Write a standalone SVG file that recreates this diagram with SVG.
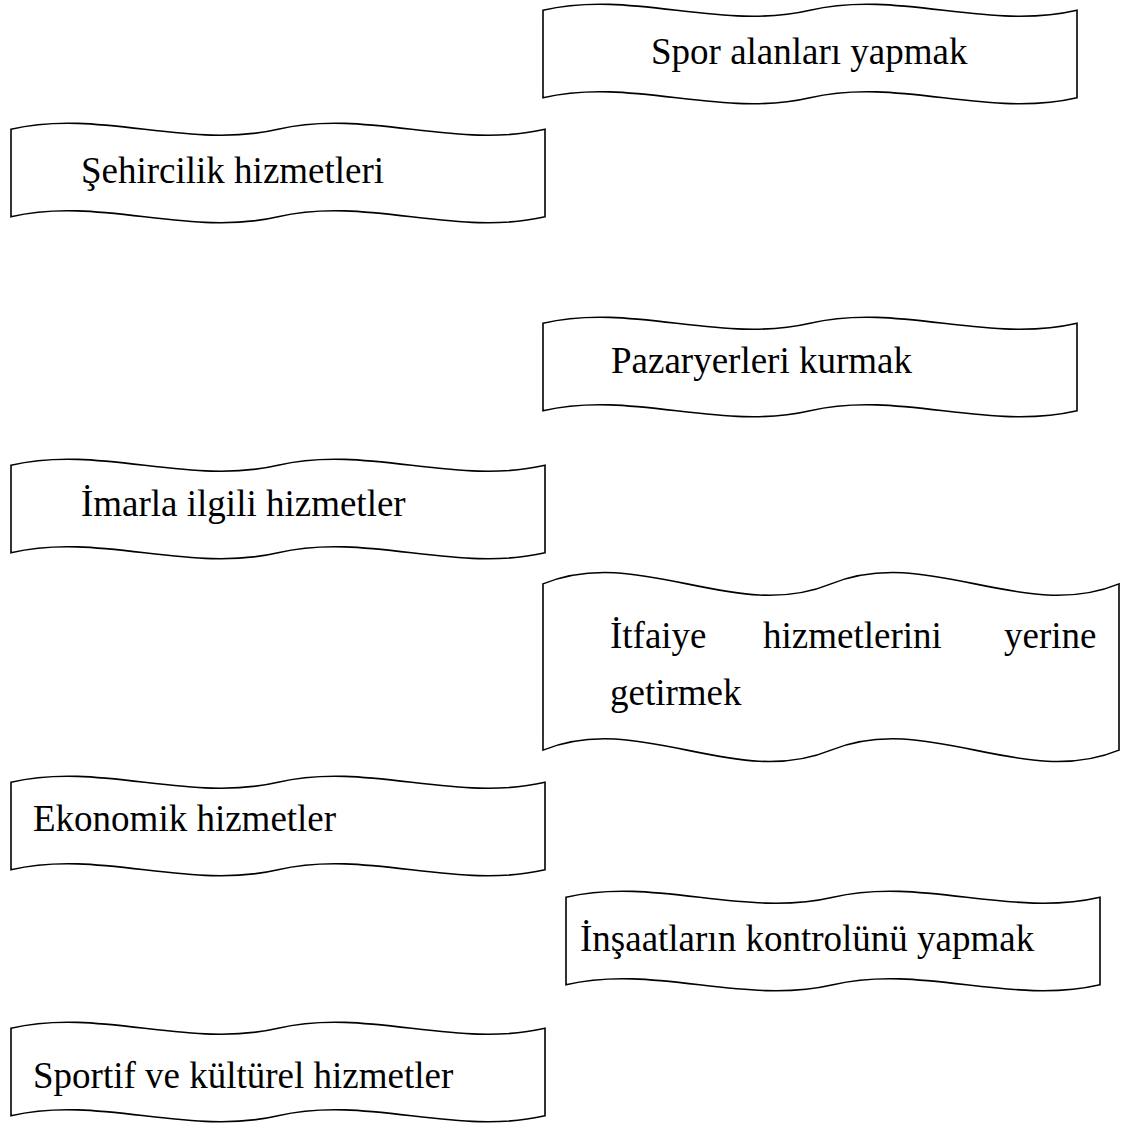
<svg xmlns="http://www.w3.org/2000/svg" xmlns:xlink="http://www.w3.org/1999/xlink" width="1127" height="1126" viewBox="0 0 1127 1126">
<style>
.shape{fill:#ffffff;stroke:#000000;stroke-width:1.6;stroke-linejoin:miter}
.lbl{font-family:"Liberation Serif","Times New Roman",serif;font-size:37px;fill:#000000}
</style>
<defs>
<path id="tape" d="M0,6.25 C89,-14.58 178,27.08 267,6.25 C356,-14.58 445,27.08 534,6.25 L534,93.75 C445,114.58 356,72.92 267,93.75 C178,114.58 89,72.92 0,93.75 Z"/>
<path id="tapeBig" d="M0,11.875 C96,-27.71 192,51.46 288,11.875 C384,-27.71 480,51.46 576,11.875 L576,178.125 C480,217.71 384,138.54 288,178.125 C192,217.71 96,138.54 0,178.125 Z"/>
</defs>
<rect width="1127" height="1126" fill="#ffffff"/>
<g id="connectors"></g>
<g id="node-spor">
<use xlink:href="#tape" href="#tape" class="shape" transform="translate(543,4)"/>
<text class="lbl" x="651" y="64">Spor alanları yapmak</text>
</g>
<g id="node-sehircilik">
<use xlink:href="#tape" href="#tape" class="shape" transform="translate(11,123)"/>
<text class="lbl" x="81" y="183">Şehircilik hizmetleri</text>
</g>
<g id="node-pazar">
<use xlink:href="#tape" href="#tape" class="shape" transform="translate(543,317)"/>
<text class="lbl" x="611" y="373">Pazaryerleri kurmak</text>
</g>
<g id="node-imar">
<use xlink:href="#tape" href="#tape" class="shape" transform="translate(11,459)"/>
<text class="lbl" x="81" y="516">İmarla ilgili hizmetler</text>
</g>
<g id="node-itfaiye">
<use xlink:href="#tapeBig" href="#tapeBig" class="shape" transform="translate(543,572)"/>
<text class="lbl" y="648"><tspan x="610">İtfaiye</tspan><tspan x="763">hizmetlerini</tspan><tspan x="1004">yerine</tspan></text>
<text class="lbl" x="610" y="705">getirmek</text>
</g>
<g id="node-ekonomik">
<use xlink:href="#tape" href="#tape" class="shape" transform="translate(11,776)"/>
<text class="lbl" x="33" y="831">Ekonomik hizmetler</text>
</g>
<g id="node-insaat">
<use xlink:href="#tape" href="#tape" class="shape" transform="translate(566,891)"/>
<text class="lbl" x="580" y="951">İnşaatların kontrolünü yapmak</text>
</g>
<g id="node-sportif">
<use xlink:href="#tape" href="#tape" class="shape" transform="translate(11,1022)"/>
<text class="lbl" x="33" y="1088">Sportif ve kültürel hizmetler</text>
</g>
</svg>
